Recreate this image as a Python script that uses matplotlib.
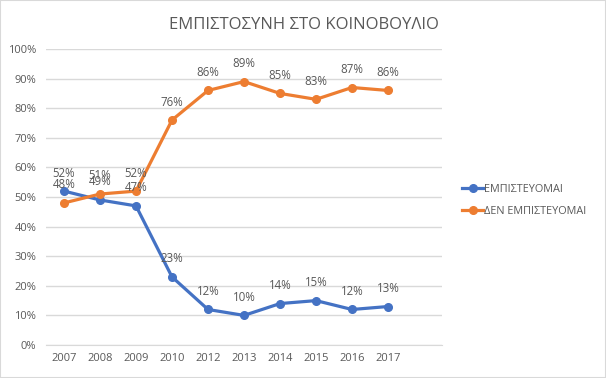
import matplotlib

matplotlib.use("Agg")

import matplotlib.pyplot as plt
from matplotlib.lines import Line2D
from matplotlib.patches import Rectangle

years = ["2007", "2008", "2009", "2010", "2012", "2013", "2014", "2015", "2016", "2017"]
trust = [52, 49, 47, 23, 12, 10, 14, 15, 12, 13]
no_trust = [48, 51, 52, 76, 86, 89, 85, 83, 87, 86]
series_names = ["ΕΜΠΙΣΤΕΥΟΜΑΙ", "ΔΕΝ ΕΜΠΙΣΤΕΥΟΜΑΙ"]
title = "ΕΜΠΙΣΤΟΣΥΝΗ ΣΤΟ ΚΟΙΝΟΒΟΥΛΙΟ"

BLUE = "#4472C4"
ORANGE = "#ED7D31"
TEXT = "#595959"
GRID = "#D9D9D9"

plt.rcParams["font.family"] = ["Open Sans", "DejaVu Sans"]

fig = plt.figure(figsize=(6.06, 3.78), dpi=100)
fig.patches.append(Rectangle((0, 0), 1, 1, transform=fig.transFigure,
                             fill=False, edgecolor=GRID, linewidth=1.5))
ax = fig.add_axes([0.0759, 0.0873, 0.6535, 0.783])

x = list(range(len(years)))
for values, color in [(trust, BLUE), (no_trust, ORANGE)]:
    ax.plot(x, values, color=color, linewidth=2.3, marker="o", markersize=5.5, zorder=3)
    for xi, v in zip(x, values):
        ax.annotate(f"{v}%", (xi, v), xytext=(0, 13), textcoords="offset points",
                    ha="center", va="center", fontsize=8.3, color=TEXT, zorder=4)

ax.set_xlim(-0.5, len(years) + 0.5)
ax.set_ylim(0, 100)
ax.set_yticks(range(0, 101, 10))
ax.set_yticklabels([f"{t}%" for t in range(0, 101, 10)])
ax.set_xticks(x)
ax.set_xticklabels(years)
ax.tick_params(axis="both", length=0, labelsize=8, labelcolor=TEXT)
ax.tick_params(axis="y", pad=7)
ax.tick_params(axis="x", pad=6)
ax.grid(axis="y", color=GRID, linewidth=1)
ax.set_axisbelow(True)
for side in ["top", "right", "left"]:
    ax.spines[side].set_visible(False)
ax.spines["bottom"].set_color(GRID)

fig.text(0.502, 0.935, title, ha="center", va="center", fontsize=12, color=TEXT)

handles = [Line2D([], [], color=c, linewidth=2.3, marker="o", markersize=5.5)
           for c in (BLUE, ORANGE)]
fig.legend(handles, series_names, loc="center left", bbox_to_anchor=(0.747, 0.47),
           frameon=False, fontsize=7.8, labelcolor=TEXT, handlelength=1.9,
           handletextpad=0.05, labelspacing=1.0)

fig.savefig("out.png", dpi=100)
